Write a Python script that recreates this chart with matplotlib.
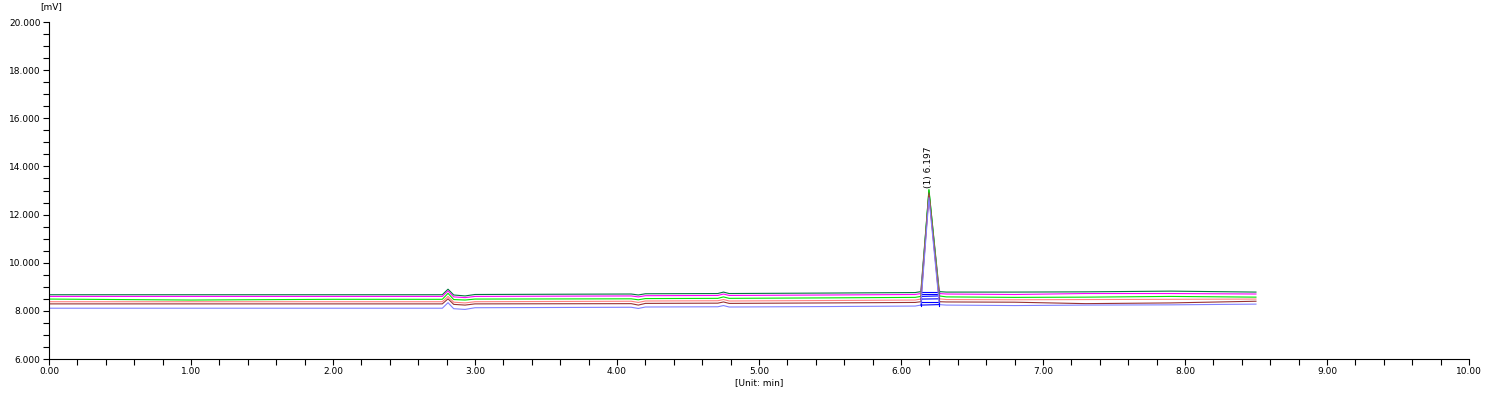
import numpy as np
import matplotlib.pyplot as plt
from matplotlib.ticker import MultipleLocator, FormatStrFormatter

t = [0.0, 1.0, 2.0, 2.77, 2.81, 2.85, 2.93, 3.0, 4.10, 4.15, 4.20, 4.71,
     4.75, 4.79, 5.50, 6.10, 6.14, 6.197, 6.27, 6.32, 6.80, 7.30, 7.90, 8.50]

# signal (mV) for each injection
dark_green = [8.67, 8.67, 8.67, 8.67, 8.90, 8.66, 8.62, 8.68, 8.70, 8.66, 8.71, 8.72,
              8.78, 8.72, 8.74, 8.76, 8.80, 13.00, 8.80, 8.78, 8.78, 8.79, 8.82, 8.78]
magenta = [8.60, 8.60, 8.60, 8.60, 8.83, 8.58, 8.55, 8.60, 8.62, 8.58, 8.63, 8.64,
           8.70, 8.64, 8.66, 8.68, 8.72, 12.85, 8.72, 8.70, 8.68, 8.72, 8.72, 8.70]
green = [8.49, 8.45, 8.48, 8.48, 8.73, 8.47, 8.45, 8.49, 8.50, 8.46, 8.51, 8.52,
         8.58, 8.52, 8.54, 8.56, 8.60, 13.05, 8.62, 8.58, 8.56, 8.57, 8.60, 8.57]
salmon = [8.38, 8.38, 8.38, 8.38, 8.60, 8.36, 8.33, 8.38, 8.40, 8.35, 8.41, 8.42,
          8.47, 8.41, 8.43, 8.45, 8.49, 12.80, 8.50, 8.47, 8.46, 8.47, 8.48, 8.49]
brown = [8.29, 8.29, 8.29, 8.29, 8.50, 8.27, 8.24, 8.29, 8.30, 8.24, 8.31, 8.32,
         8.37, 8.31, 8.33, 8.35, 8.38, 12.90, 8.38, 8.37, 8.36, 8.30, 8.33, 8.40]
blue = [8.11, 8.11, 8.11, 8.11, 8.34, 8.09, 8.06, 8.13, 8.15, 8.10, 8.16, 8.17,
        8.22, 8.16, 8.18, 8.20, 8.24, 12.70, 8.26, 8.24, 8.22, 8.24, 8.25, 8.28]

peak_rt = 6.197
peak_label = '(1) 6.197'

series = [dark_green, magenta, green, salmon, brown, blue]
colors = ['#007a3d', '#ff00ff', '#00e600', '#ff8080', '#993333', '#8080ff']

fig = plt.figure(figsize=(14.85, 3.93), dpi=100)
ax = fig.add_axes([0.033, 0.0865, 0.9562, 0.8575])

for y, c in zip(series, colors):
    ax.plot(t, y, color=c, lw=0.8)
    # integration baseline under the peak
    ax.plot([t[16], t[18]], [y[16], y[18]], color='#0000ff', lw=0.8)
    ax.plot([t[16], t[16]], [y[16] - 0.05, y[16] + 0.05], color='#0000ff', lw=0.8)
    ax.plot([t[18], t[18]], [y[18] - 0.05, y[18] + 0.05], color='#0000ff', lw=0.8)

ax.text(peak_rt, 13.1, peak_label, rotation=90, ha='center', va='bottom', fontsize=6.5)

ax.set_xlim(0, 10)
ax.set_ylim(6, 20)
ax.xaxis.set_major_locator(MultipleLocator(1))
ax.xaxis.set_minor_locator(MultipleLocator(0.2))
ax.yaxis.set_major_locator(MultipleLocator(2))
ax.yaxis.set_minor_locator(MultipleLocator(0.5))
ax.xaxis.set_major_formatter(FormatStrFormatter('%.2f'))
ax.yaxis.set_major_formatter(FormatStrFormatter('%.3f'))
ax.tick_params(which='both', length=4, width=0.8, labelsize=6.5, pad=2)

for s in ['top', 'right']:
    ax.spines[s].set_visible(False)
for s in ['left', 'bottom']:
    ax.spines[s].set_linewidth(0.8)

ax.set_xlabel('[Unit: min]', fontsize=6.5, labelpad=1)
fig.text(40 / 1485, 1 - 7 / 393, '[mV]', fontsize=6.5, va='center', ha='left')

fig.savefig('out.png', dpi=100)
